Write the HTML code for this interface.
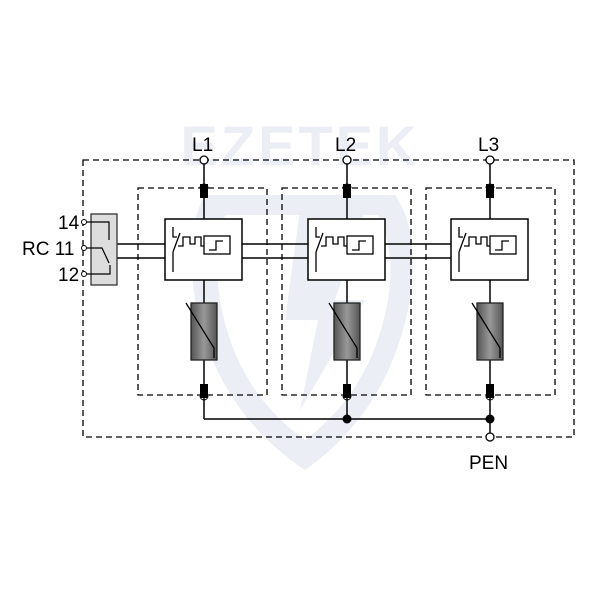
<!DOCTYPE html>
<html><head><style>body{margin:0;background:#fff}svg{display:block}</style></head><body>
<svg width="600" height="600" viewBox="0 0 600 600" xmlns="http://www.w3.org/2000/svg" font-family="Liberation Sans, sans-serif">
<defs>
<linearGradient id="g" x1="0" x2="1"><stop offset="0" stop-color="#555"/><stop offset="0.5" stop-color="#999"/><stop offset="1" stop-color="#555"/></linearGradient>
<g id="mod">
  <line x1="0" y1="164" x2="0" y2="219" stroke="#000" stroke-width="1.5"/>
  <path d="M-4,188 A4,4 0 0 1 4,188" fill="none" stroke="#000" stroke-width="1"/>
  <rect x="-4" y="184" width="8" height="14" fill="#000"/>
  <rect x="-39" y="219" width="77" height="61" fill="#fff" stroke="#000" stroke-width="1.5"/>
  <path d="M-31,227 L-31,237 L-27,237 M-24,233 L-31,252 M-31,252 L-31,272" fill="none" stroke="#000" stroke-width="1.3"/>
  <path d="M-26,246 L-21,246 L-21,237 L-14,237 L-14,244 L-9,244 L-9,237 L-3,237 L-3,246 L0,246" fill="none" stroke="#000" stroke-width="1.3"/>
  <rect x="0" y="236" width="26" height="18" fill="#fff" stroke="#000" stroke-width="1.3"/>
  <path d="M5,250 L12,250 L12,241 L19,241" fill="none" stroke="#000" stroke-width="1.3"/>
  <line x1="0" y1="280" x2="0" y2="384" stroke="#000" stroke-width="1.5"/>
  <rect x="-13" y="303" width="26" height="57" fill="url(#g)" stroke="#222" stroke-width="1.3"/>
  <path d="M-18,303 L10,348 L10,358" fill="none" stroke="#000" stroke-width="1.3"/>
  <rect x="-4" y="384" width="8" height="14" fill="#000"/>
  <path d="M-4,396 A4,4 0 0 0 4,396" fill="none" stroke="#000" stroke-width="1"/>
  <line x1="0" y1="398" x2="0" y2="419" stroke="#000" stroke-width="1.5"/>
  <circle cx="0" cy="160" r="4" fill="#fff" stroke="#000" stroke-width="1.3"/>
</g>
</defs>
<g fill="#eceef5">
  <text x="300" y="165" font-size="56" font-weight="bold" text-anchor="middle" letter-spacing="3">EZETEK</text>
  <path d="M205,195 L395,195 Q420,230 410,300 Q390,410 305,470 Q215,410 195,300 Q185,230 205,195 Z M225,215 Q212,250 220,300 Q235,390 305,440 Q372,390 388,300 Q396,250 378,215 Z" fill-rule="evenodd"/>
  <path d="M300,210 L365,210 L335,300 L365,300 L300,410 L318,320 L285,320 Z"/>
</g>
<g fill="none" stroke="#000" stroke-width="1.3" stroke-dasharray="6,4">
  <rect x="83" y="160" width="491" height="277"/>
  <rect x="138" y="188" width="129" height="207"/>
  <rect x="282" y="188" width="129" height="207"/>
  <rect x="426" y="188" width="129" height="207"/>
</g>
<g stroke="#000" stroke-width="1.5">
  <line x1="117" y1="244" x2="452" y2="244"/>
  <line x1="117" y1="258" x2="452" y2="258"/>
  <line x1="204" y1="419" x2="490" y2="419"/>
  <line x1="490" y1="419" x2="490" y2="433"/>
</g>
<use href="#mod" x="204"/>
<use href="#mod" x="347"/>
<use href="#mod" x="490"/>
<circle cx="347" cy="419" r="4.5" fill="#000"/>
<circle cx="490" cy="419" r="4.5" fill="#000"/>
<circle cx="490" cy="437" r="4" fill="#fff" stroke="#000" stroke-width="1.3"/>
<rect x="91" y="214" width="26" height="71" fill="#ddd" stroke="#333" stroke-width="1.3"/>
<path d="M84,222 L109,222 L109,240 M84,248 L102,248 L109,263 M84,274 L110,274 L110,265" fill="none" stroke="#000" stroke-width="1.2"/>
<g fill="#fff" stroke="#000" stroke-width="1"><circle cx="84" cy="222" r="2.5"/><circle cx="84" cy="248" r="2.5"/><circle cx="84" cy="274" r="2.5"/></g>
<g font-size="19" fill="#000">
  <text x="192" y="151">L1</text><text x="335" y="151">L2</text><text x="478" y="151">L3</text>
  <text x="469" y="469">PEN</text>
  <text x="58" y="229">14</text><text x="22" y="255">RC 11</text><text x="58" y="281">12</text>
</g>
</svg>
</body></html>
